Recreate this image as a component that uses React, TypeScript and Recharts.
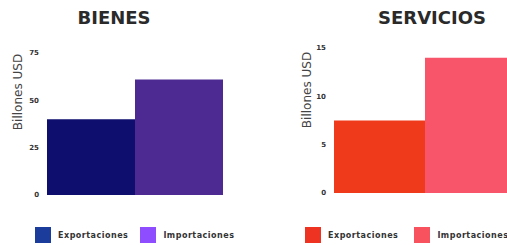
import React from "react";
import { BarChart, Bar, XAxis, YAxis, Legend } from "recharts";

const categories = ["Exportaciones", "Importaciones"];
const bienesValues = [40, 61];
const serviciosValues = [7.5, 14];
const bienesTicks = [0, 25, 50, 75];
const serviciosTicks = [0, 5, 10, 15];
const bienesBarColors = ["#0e0e6e", "#4c2a92"];
const bienesLegendColors = ["#1b3c9a", "#8e4eff"];
const serviciosBarColors = ["#f03a1c", "#f8546a"];
const serviciosLegendColors = ["#ee3322", "#f8525f"];

const FONT = "'DejaVu Sans', sans-serif";

interface PanelProps {
  title: string;
  values: number[];
  ticks: number[];
  barColors: string[];
  legendColors: string[];
  left: number;
  width: number;
  margin: { top: number; right: number; bottom: number; left: number };
  titleCenter: number;
  labelX: number;
  labelY: number;
  legendLeft: number;
  legendGap: number;
}

const Panel = (p: PanelProps) => {
  const row: Record<string, string | number> = { name: p.title };
  categories.forEach((c, i) => (row[c] = p.values[i]));
  const data = [row];

  const renderLegend = () => (
    <div style={{ display: "flex", alignItems: "center", fontFamily: FONT }}>
      {categories.map((c, i) => (
        <div
          key={c}
          style={{
            display: "flex",
            alignItems: "center",
            marginRight: p.legendGap,
          }}
        >
          <div
            style={{
              width: 16,
              height: 16,
              background: p.legendColors[i],
              marginRight: 7,
            }}
          />
          <span
            style={{
              fontSize: 8,
              fontWeight: "bold",
              color: "#333",
              letterSpacing: 0.5,
              whiteSpace: "nowrap",
            }}
          >
            {c}
          </span>
        </div>
      ))}
    </div>
  );

  return (
    <div style={{ position: "absolute", left: p.left, top: 0 }}>
      <BarChart
        width={p.width}
        height={245}
        data={data}
        margin={p.margin}
        barCategoryGap={0}
        barGap={0}
      >
        <XAxis dataKey="name" hide />
        <YAxis
          width={30}
          domain={[p.ticks[0], p.ticks[p.ticks.length - 1]]}
          ticks={p.ticks}
          axisLine={false}
          tickLine={false}
          tick={{ fontSize: 7, fontWeight: "bold", fill: "#333", fontFamily: FONT }}
        />
        <Legend
          layout="horizontal"
          verticalAlign="middle"
          align="center"
          content={renderLegend}
          wrapperStyle={{ left: p.legendLeft, top: 227, width: "auto" }}
        />
        {categories.map((c, i) => (
          <Bar
            key={c}
            dataKey={c}
            fill={p.barColors[i]}
            isAnimationActive={false}
          />
        ))}
      </BarChart>
      <div
        style={{
          position: "absolute",
          left: p.titleCenter - p.left - 100,
          width: 200,
          top: 7,
          textAlign: "center",
          fontFamily: FONT,
          fontWeight: "bold",
          fontSize: 18,
          color: "#2a2a2a",
        }}
      >
        {p.title}
      </div>
      <svg
        style={{ position: "absolute", left: 0, top: 0, pointerEvents: "none" }}
        width={p.width}
        height={245}
      >
        <text
          x={p.labelX - p.left}
          y={p.labelY}
          transform={`rotate(-90 ${p.labelX - p.left} ${p.labelY})`}
          textAnchor="middle"
          dominantBaseline="central"
          fontFamily={FONT}
          fontSize={12}
          fill="#444"
        >
          Billones USD
        </text>
      </svg>
    </div>
  );
};

const App = () => (
  <div
    style={{
      position: "absolute",
      left: 0,
      top: 0,
      width: 507,
      height: 245,
      overflow: "hidden",
      background: "#fff",
    }}
  >
    <Panel
      title="BIENES"
      values={bienesValues}
      ticks={bienesTicks}
      barColors={bienesBarColors}
      legendColors={bienesLegendColors}
      left={0}
      width={250}
      margin={{ top: 53, right: 28, bottom: 50, left: 17 }}
      titleCenter={114}
      labelX={18}
      labelY={92}
      legendLeft={35}
      legendGap={12}
    />
    <Panel
      title="SERVICIOS"
      values={serviciosValues}
      ticks={serviciosTicks}
      barColors={serviciosBarColors}
      legendColors={serviciosLegendColors}
      left={280}
      width={260}
      margin={{ top: 48, right: 25, bottom: 52, left: 24 }}
      titleCenter={432}
      labelX={307}
      labelY={90}
      legendLeft={25}
      legendGap={16}
    />
  </div>
);

export default App;
